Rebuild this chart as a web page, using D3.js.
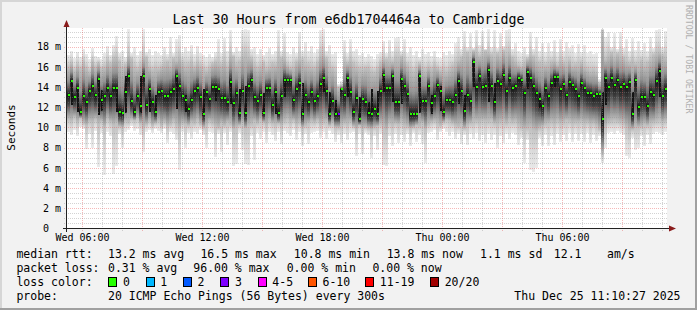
<!DOCTYPE html>
<html><head><meta charset="utf-8">
<script src="https://cdn.jsdelivr.net/npm/d3@7"></script>
<style>
html,body{margin:0;padding:0;background:#f2f2f2;}
svg{display:block;}
text{font-family:"DejaVu Sans Mono",monospace;fill:#000;}
</style></head><body>
<svg id="c" width="697" height="310"></svg>
<script>
// ---------- data (milliseconds) ----------
const median = [
13.2,14.6,13.0,13.9,11.5,13.1,12.5,13.6,14.1,13.2,
14.8,12.7,13.1,13.9,13.1,13.9,13.9,11.5,11.4,13.5,
15.1,12.6,11.5,13.1,12.1,15.1,12.2,13.8,12.5,11.5,
13.5,13.6,13.1,13.1,13.5,13.8,15.1,14.1,13.1,12.7,
11.8,12.7,13.6,13.9,13.0,11.3,13.5,12.8,14.0,14.0,
13.8,12.9,12.9,12.5,14.5,12.4,13.4,11.4,13.6,11.4,
14.1,14.7,13.0,12.6,13.2,11.4,13.9,13.9,12.2,13.5,
11.4,13.1,14.7,14.7,14.7,12.7,13.8,14.4,11.3,13.2,
12.5,13.5,12.6,13.1,14.3,14.9,13.6,11.3,12.6,11.3,
11.3,13.8,13.2,14.9,13.5,11.5,12.9,10.8,12.8,12.5,
11.4,11.3,11.8,11.3,13.6,15.2,13.9,13.9,15.1,12.5,
12.5,14.8,14.1,13.3,11.3,11.3,11.3,15.1,12.6,12.6,
14.1,12.4,13.1,14.2,13.6,11.5,12.7,12.7,12.5,13.2,
14.6,13.6,11.6,13.2,12.6,16.5,14.0,15.1,14.0,14.1,
15.7,14.1,12.5,14.6,14.3,15.2,13.6,14.9,13.9,14.1,
14.9,14.7,13.4,15.5,14.9,14.1,13.4,12.8,12.1,13.9,
13.1,14.4,15.0,15.0,13.8,14.3,13.2,14.5,14.2,13.8,
13.1,14.4,13.9,13.4,13.4,13.1,13.3,13.3,10.8,14.9,
14.0,14.9,14.2,14.7,14.0,14.3,14.0,14.5,11.3,14.7,
12.0,13.0,13.0,12.1,13.5,13.2,14.6,15.6,13.1,13.8];
const smokeLo = [
9.6,9.3,9.8,9.2,10.0,9.9,7.9,9.4,8.0,9.7,
6.1,9.5,5.3,9.6,9.2,5.4,6.2,9.4,8.0,9.6,
9.8,10.1,9.7,9.9,9.3,7.6,9.6,9.8,9.5,9.9,
9.7,9.5,9.9,8.5,9.6,9.4,8.8,5.8,9.6,8.0,
9.5,8.9,9.6,9.4,9.8,9.3,8.0,9.6,9.5,7.1,
9.4,7.6,9.5,8.3,9.6,6.2,6.4,9.5,7.8,6.4,
6.3,9.2,6.8,9.5,8.9,9.6,8.5,9.6,9.3,8.7,
9.6,8.4,9.7,9.5,9.2,9.8,8.8,9.6,8.2,9.4,
8.4,9.5,9.6,9.7,9.0,9.6,8.9,9.7,9.4,8.6,
9.3,8.5,9.4,8.8,9.5,9.6,7.2,9.4,7.4,9.5,
9.3,7.0,9.2,7.8,9.4,6.3,6.2,9.2,8.2,9.4,
8.5,9.3,8.6,9.4,8.2,9.5,8.6,9.3,8.4,6.5,
9.5,9.6,9.8,8.8,9.6,9.9,9.6,9.2,9.6,8.9,
9.4,8.4,9.3,8.3,9.4,8.9,9.5,8.7,9.3,8.5,
9.4,8.8,9.3,8.0,9.2,8.5,9.4,8.9,9.5,9.3,
8.3,9.0,6.5,8.8,5.8,5.6,6.0,9.0,8.2,9.3,
8.2,9.2,8.3,9.4,8.6,9.3,8.7,9.5,8.6,9.4,
8.7,9.4,8.6,9.5,8.5,9.3,8.7,9.2,6.5,8.0,
9.5,9.6,9.4,9.7,9.5,9.3,7.2,7.0,9.0,7.8,
8.0,9.2,8.2,9.3,8.4,9.4,9.6,9.5,9.3,9.6];
const smokeCoreLo = [
10.8,10.6,11.0,10.5,10.9,10.4,10.2,10.6,10.5,10.8,
10.3,10.6,10.0,10.8,10.5,10.2,10.4,10.1,10.0,10.6,
10.5,10.8,10.7,10.9,10.4,10.0,10.3,10.6,10.2,10.4,
10.6,10.2,10.5,10.1,10.3,10.6,10.2,9.8,10.4,10.3,
10.2,10.5,10.4,10.7,10.3,10.0,10.2,10.6,10.4,10.1,
10.0,10.4,10.2,10.5,10.3,9.8,10.0,10.2,10.4,9.9,
10.1,10.3,10.6,10.4,10.7,10.5,10.2,10.6,10.4,10.3,
10.4,10.2,10.6,10.8,10.5,10.7,10.3,10.5,10.0,10.2,
10.4,10.6,10.5,10.7,10.3,10.5,10.6,10.2,10.4,10.0,
10.0,10.2,10.4,10.3,10.5,10.1,9.8,10.2,9.9,10.0,
9.9,9.8,10.0,10.1,10.3,10.0,9.7,10.4,10.2,10.4,
10.3,10.5,10.2,10.1,9.9,10.0,10.2,10.1,10.4,9.8,
10.3,10.5,10.6,10.4,10.2,10.5,10.7,10.6,10.4,10.2,
10.1,10.3,9.9,10.2,10.4,10.5,10.6,10.5,10.7,10.6,
10.6,10.7,10.4,10.3,10.5,10.6,10.4,10.7,10.5,10.6,
10.2,10.0,9.8,9.9,10.0,9.7,9.6,9.9,10.1,10.3,
10.4,10.5,10.3,10.6,10.4,10.5,10.7,10.6,10.4,10.5,
10.5,10.6,10.4,10.5,10.3,10.4,10.2,9.8,7.4,10.0,
10.5,10.6,10.7,10.6,10.5,10.4,10.0,9.6,9.8,10.0,
10.0,10.1,10.3,10.2,10.4,10.5,10.6,10.7,10.5,10.6];
const smokeCoreHi = [
16.0,16.4,15.6,16.2,15.8,16.5,15.9,15.5,16.6,16.0,
16.4,15.8,16.0,16.6,16.3,16.9,17.0,16.5,15.9,16.2,
17.2,16.8,16.0,15.8,16.2,17.0,16.9,16.0,15.7,15.9,
15.8,16.0,16.3,16.5,16.2,16.8,16.6,17.0,16.4,16.1,
16.2,16.5,16.0,16.4,16.1,15.8,15.6,15.9,16.3,16.5,
16.4,16.2,16.6,16.0,17.2,17.0,16.3,16.5,17.1,17.3,
17.0,16.8,16.2,15.9,16.1,16.4,15.8,16.0,16.3,16.2,
17.0,16.8,16.9,16.2,15.9,16.0,16.5,16.8,16.6,16.3,
16.2,16.0,15.9,16.4,17.2,17.3,16.8,16.1,15.8,15.5,
14.0,14.2,16.6,16.4,16.7,16.3,16.0,15.8,15.7,15.9,
15.9,15.5,15.4,15.8,16.4,16.8,16.7,16.6,16.5,16.9,
16.8,17.0,16.7,16.2,15.8,15.5,15.9,16.3,15.8,15.7,
16.0,15.8,16.2,15.9,15.6,15.7,15.5,15.8,16.1,16.4,
16.7,16.9,17.2,17.4,17.0,17.6,17.5,17.1,17.3,17.6,
17.4,17.2,17.0,17.3,17.1,17.6,17.3,17.5,16.9,16.6,
16.2,16.0,16.4,16.8,17.2,17.0,16.6,16.4,16.3,16.2,
16.3,16.5,16.6,16.2,16.7,16.4,16.3,16.6,16.1,16.2,
16.2,16.4,16.0,15.8,15.6,15.7,15.5,14.4,19.6,16.8,
17.2,17.4,17.0,17.3,17.1,16.9,16.6,16.4,16.7,16.3,
16.3,16.6,16.2,16.4,16.8,17.2,17.4,17.5,17.1,17.0];
const smokeHi = [
17.2,17.6,16.9,17.5,17.0,17.8,17.3,16.8,17.9,17.1,
17.0,16.8,17.4,18.1,17.2,18.2,19.1,17.4,17.6,17.0,
19.8,17.4,18.0,17.2,17.6,19.8,17.5,17.8,17.2,17.6,
17.4,17.2,18.0,17.3,19.0,17.4,18.8,19.2,17.5,18.0,
17.6,18.2,17.3,18.1,17.4,17.2,17.0,17.3,17.0,17.5,
18.8,17.4,18.9,17.6,19.7,17.5,18.0,17.6,19.7,19.8,
19.7,17.8,18.0,17.3,17.8,17.2,17.5,17.9,17.3,17.6,
19.7,17.6,19.4,17.5,17.3,18.0,17.4,19.5,17.6,18.5,
17.6,18.1,17.4,17.8,19.7,19.8,17.6,18.2,17.3,17.5,
14.3,14.6,18.7,17.4,18.8,17.6,17.8,17.2,17.4,17.0,
17.3,17.1,16.8,17.3,17.5,18.6,17.4,18.7,17.6,18.9,
19.0,17.6,18.8,17.4,18.0,17.2,17.6,17.0,17.8,17.3,
17.5,17.1,17.6,17.0,16.9,17.5,17.2,17.6,17.3,18.4,
19.0,17.8,19.6,18.0,19.4,17.9,19.7,18.2,19.6,17.8,
19.8,18.0,19.7,17.9,19.4,18.1,19.7,19.8,17.8,18.4,
17.6,17.4,18.0,17.3,19.5,17.8,19.0,17.6,18.4,17.5,
18.4,17.6,18.7,17.5,18.8,17.6,18.5,17.9,18.2,17.4,
18.3,17.5,18.2,17.4,17.6,17.3,17.4,14.8,19.8,19.0,
19.5,18.0,19.4,17.8,19.5,17.9,18.8,17.6,18.9,17.7,
18.6,17.7,18.4,17.6,19.0,17.9,19.7,19.8,18.0,19.6];
// columns where the innermost (darkest) ping band is wide
const coreBarCols = [1,3,10,11,16,19,24,27,29,36,39,45,49,54,57,59,65,69,72,78,85,87,89,93,97,100,101,103,105,108,111,117,121,124,130,132,135,140,142,153,157,162,178,179,188,197];
const coreBarLo =   [12.2,11.5,11.2,11.6,11.5,11.4,11.4,11.5,11.4,11.8,11.5,11.2,12.6,12.3,11.3,11.3,11.3,11.3,13.0,11.3,13.5,11.3,11.3,13.0,10.8,11.3,11.3,11.3,13.5,12.5,12.3,11.4,11.3,11.6,12.3,11.6,14.0,12.5,12.3,13.8,11.9,14.0,10.6,12.2,11.2,13.0];
const coreBarHi =   [14.6,13.8,14.8,13.7,14.0,15.1,15.1,14.0,13.2,15.1,13.2,13.8,14.2,14.6,13.8,14.1,13.4,13.5,14.7,14.4,14.9,13.5,12.7,14.9,13.0,12.5,13.8,13.6,15.2,15.1,14.8,15.1,13.2,14.1,14.7,13.2,16.5,15.8,14.4,15.5,13.4,15.0,13.5,15.0,13.5,15.8];
const lossColumns = [90];
const lossCounts = [3];
const yTickValues = [0,2,4,6,8,10,12,14,16,18];
const lossLabels = ["0","1","2","3","4-5","6-10","11-19","20/20"];
const lossColors = ["#26ff00","#00b8ff","#0059ff","#7e00ff","#ff00ff","#ff5500","#ff0000","#a10000"];
const rttLegend = ["median rtt:","13.2 ms avg","16.5 ms max","10.8 ms min","13.8 ms now","1.1 ms sd","12.1","am/s"];
const lossLegend = ["packet loss:","0.31 % avg","96.00 % max","0.00 % min","0.00 % now"];
const probeLegend = ["probe:","20 ICMP Echo Pings (56 Bytes) every 300s"];
const stampText = "Thu Dec 25 11:10:27 2025";
const titleText = "Last 30 Hours from e6db1704464a to Cambridge";

// ---------- layout ----------
const W = 697, H = 310;
const PL = 67, PR = 667, PT = 28.5, PB = 228.5;
const start = new Date(2025, 11, 24, 5, 15);
const end = d3.timeHour.offset(start, 30);
const stepMin = 9;
const x = d3.scaleTime().domain([start, end]).range([PL, PR]);
const y = d3.scaleLinear().domain([0, 19.8]).range([PB, PT]);
const svg = d3.select("#c");

// background + 3D frame
svg.append("rect").attr("width", W).attr("height", H).attr("fill", "#f2f2f2");
svg.append("rect").attr("x",0).attr("y",0).attr("width",W).attr("height",2).attr("fill","#d6d6d6");
svg.append("rect").attr("x",0).attr("y",0).attr("width",2).attr("height",H).attr("fill","#d6d6d6");
svg.append("rect").attr("x",0).attr("y",H-2).attr("width",W).attr("height",2).attr("fill","#a0a0a0");
svg.append("rect").attr("x",W-2).attr("y",0).attr("width",2).attr("height",H).attr("fill","#a0a0a0");

// canvas
svg.append("rect").attr("x", PL).attr("y", 28).attr("width", PR - PL).attr("height", 200.5).attr("fill", "#fff");

// smoke
const cols = median.map((m, i) => ({
  i, t0: d3.timeMinute.offset(start, i * stepMin), t1: d3.timeMinute.offset(start, (i + 1) * stepMin),
  med: m, lo: smokeLo[i], clo: smokeCoreLo[i], chi: smokeCoreHi[i], hi: smokeHi[i],
  loss: lossColumns.includes(i) ? lossCounts[lossColumns.indexOf(i)] : 0
}));
const defs = svg.append("defs");
cols.forEach(c => {
  const yTop = y(c.hi), yBot = y(c.lo), h = yBot - yTop;
  const off = v => Math.max(0, Math.min(1, (y(v) - yTop) / h));
  const m = Math.max(c.clo, Math.min(c.chi, c.med));
  const stops = [
    [c.hi, "#ececec"], [c.chi + (c.hi - c.chi) * 0.5, "#dcdcdc"], [c.chi, "#c0c0c0"],
    [c.chi + (m - c.chi) * 0.5, "#939393"], [c.chi + (m - c.chi) * 0.8, "#4c4c4c"],
    [m, "#161616"], [m + (c.clo - m) * 0.35, "#424242"], [m + (c.clo - m) * 0.7, "#8c8c8c"],
    [c.clo, "#c0c0c0"], [c.clo + (c.lo - c.clo) * 0.5, "#dadada"], [c.lo, "#eaeaea"]];
  const g = defs.append("linearGradient").attr("id", "g" + c.i)
    .attr("x1", 0).attr("y1", 0).attr("x2", 0).attr("y2", 1);
  stops.forEach(s => g.append("stop").attr("offset", off(s[0])).attr("stop-color", s[1]));
});
svg.append("g").attr("shape-rendering", "crispEdges").selectAll("rect").data(cols).join("rect")
  .attr("x", d => x(d.t0)).attr("width", d => x(d.t1) - x(d.t0))
  .attr("y", d => y(d.hi)).attr("height", d => y(d.lo) - y(d.hi))
  .attr("fill", d => `url(#g${d.i})`);

// darkest inner band where pings split between two levels
const bars = coreBarCols.map((c, k) => ({ t0: cols[c].t0, t1: cols[c].t1, lo: coreBarLo[k], hi: coreBarHi[k] }));
svg.append("g").attr("shape-rendering", "crispEdges").selectAll("rect").data(bars).join("rect")
  .attr("x", d => x(d.t0) + 0.5).attr("width", 2)
  .attr("y", d => y(d.hi)).attr("height", d => y(d.lo) - y(d.hi))
  .attr("fill", "#141414");

// grid
const grid = svg.append("g").attr("shape-rendering", "crispEdges");
const minorCol = "rgba(140,140,140,0.38)", majorCol = "rgba(230,70,70,0.38)";
d3.range(0.5, 19.81, 0.5).forEach(v => {
  const major = Math.abs(v % 2) < 1e-9;
  const yy = Math.round(y(v)) + 0.5;
  grid.append("line").attr("x1", PL - 3).attr("x2", PR).attr("y1", yy).attr("y2", yy)
    .attr("stroke", major ? majorCol : minorCol).attr("stroke-dasharray", "1,1");
});
d3.timeHour.range(start, end).forEach(t => {
  const major = t.getHours() % 3 === 0;
  const xx = Math.round(x(t)) + 0.5;
  grid.append("line").attr("x1", xx).attr("x2", xx).attr("y1", 28).attr("y2", PB + 3)
    .attr("stroke", major ? majorCol : minorCol).attr("stroke-dasharray", "1,1");
});

// median marks
svg.append("g").attr("shape-rendering", "crispEdges").selectAll("rect").data(cols).join("rect")
  .attr("x", d => x(d.t0) + 0.5).attr("width", 2)
  .attr("y", d => Math.round(y(d.med)) - 1).attr("height", 2)
  .attr("fill", d => {
    const l = d.loss;
    const idx = l === 0 ? 0 : l === 1 ? 1 : l === 2 ? 2 : l === 3 ? 3 : l <= 5 ? 4 : l <= 10 ? 5 : l <= 19 ? 6 : 7;
    return lossColors[idx];
  });

// axes lines + arrows
const ax = svg.append("g").attr("shape-rendering", "crispEdges");
ax.append("line").attr("x1", 66.5).attr("x2", 66.5).attr("y1", PB + 3).attr("y2", 24).attr("stroke", "#222");
ax.append("line").attr("x1", 63).attr("x2", 671).attr("y1", 228.5).attr("y2", 228.5).attr("stroke", "#222");
svg.append("path").attr("d", "M63.5,27 L69.5,27 L66.5,20 Z").attr("fill", "#8a1c1c");
svg.append("path").attr("d", "M669,225.5 L669,231.5 L676,228.5 Z").attr("fill", "#8a1c1c");

// y axis labels
const yAxis = d3.axisLeft(y).tickValues(yTickValues).tickSize(0).tickPadding(0)
  .tickFormat(d => d === 0 ? "0" : d + " m");
const gy = svg.append("g").attr("transform", "translate(61,0)").call(yAxis);
gy.select(".domain").remove();
gy.attr("font-family", null).attr("font-size", null);
gy.selectAll("text").style("font-size", "10px").attr("fill", "#000")
  .attr("x", d => d === 0 ? -12 : 0);

// x axis labels
const xAxis = d3.axisBottom(x).tickValues(d3.timeHour.every(6).range(start, end))
  .tickSize(0).tickPadding(3).tickFormat(d3.timeFormat("%a %H:%M"));
const gx = svg.append("g").attr("transform", "translate(0,231)").call(xAxis);
gx.select(".domain").remove();
gx.attr("font-family", null).attr("font-size", null);
gx.selectAll("text").style("font-size", "10px").attr("fill", "#000");

// title and side labels
svg.append("text").attr("x", 348.5).attr("y", 23.5).attr("text-anchor", "middle")
  .style("font-size", "13.3px").text(titleText);
svg.append("text").attr("transform", "translate(14.5,127.5) rotate(-90)").attr("text-anchor", "middle")
  .style("font-size", "11px").text("Seconds");
svg.append("text").attr("transform", "translate(685.5,5) rotate(90)").attr("text-anchor", "start")
  .style("font-size", "8.2px").style("fill", "#b0b0b0").text("RRDTOOL / TOBI OETIKER");

// legend
const lg = svg.append("g").style("font-size", "11.5px").attr("xml:space", "preserve");
const rttX = [16.4, 108, 200.4, 293.8, 386.7, 480, 553.8, 607];
rttLegend.forEach((s, i) => lg.append("text").attr("x", rttX[i]).attr("y", 257.5).text(s));
const lossX = [16.4, 108, 193.3, 286.7, 372.4];
lossLegend.forEach((s, i) => lg.append("text").attr("x", lossX[i]).attr("y", 271.5).text(s));
lg.append("text").attr("x", 16.4).attr("y", 285.5).text("loss color:");
const boxX = [108.4, 145.8, 183, 220.4, 257.8, 308, 365.3, 430.2];
lossLabels.forEach((s, i) => {
  lg.append("rect").attr("x", boxX[i] + 0.5).attr("y", 277.5).attr("width", 8).attr("height", 9)
    .attr("fill", lossColors[i]).attr("stroke", "#000").attr("stroke-width", 1).attr("shape-rendering", "crispEdges");
  lg.append("text").attr("x", boxX[i] + 14.5).attr("y", 285.5).text(s);
});
lg.append("text").attr("x", 16.4).attr("y", 299.5).text(probeLegend[0]);
lg.append("text").attr("x", 108).attr("y", 299.5).text(probeLegend[1]);
lg.append("text").attr("x", 680.5).attr("y", 299.5).attr("text-anchor", "end").text(stampText);
</script>
</body></html>
